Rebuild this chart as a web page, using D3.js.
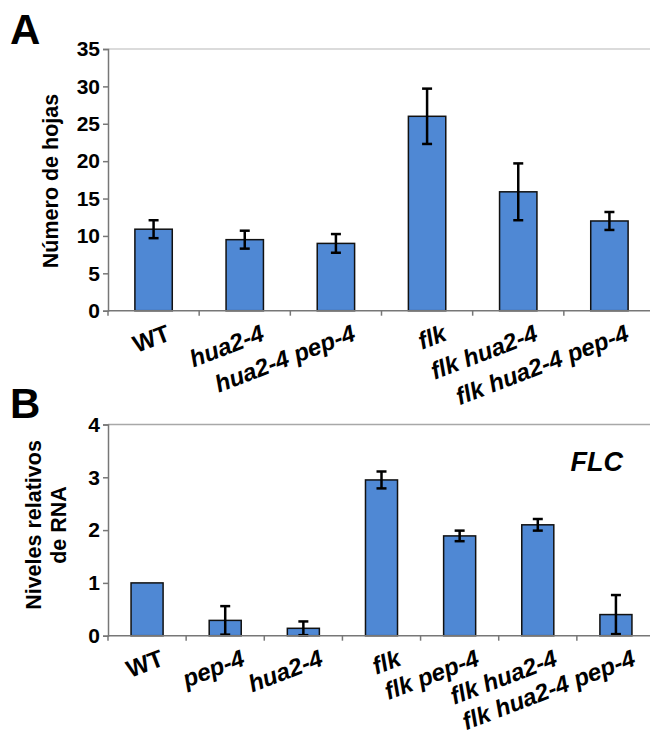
<!DOCTYPE html>
<html>
<head>
<meta charset="utf-8">
<script src="https://cdn.jsdelivr.net/npm/d3@7/dist/d3.min.js"></script>
<style>
  body { margin: 0; background: #fff; }
  svg text { font-family: "Liberation Sans", Arial, sans-serif; font-weight: bold; fill: #000; }
</style>
</head>
<body>
<div id="chart"></div>
<script>
// panel A: number of leaves
var cats_a = ["WT", "hua2-4", "hua2-4 pep-4", "flk", "flk hua2-4", "flk hua2-4 pep-4"];
var vals_a = [10.9, 9.5, 9.0, 26.0, 15.9, 12.0];
var err_a = [1.2, 1.2, 1.25, 3.7, 3.8, 1.2];
var ticks_a = [0, 5, 10, 15, 20, 25, 30, 35];

// panel B: relative FLC RNA levels
var cats_b = ["WT", "pep-4", "hua2-4", "flk", "flk pep-4", "flk hua2-4", "flk hua2-4 pep-4"];
var vals_b = [1.0, 0.29, 0.14, 2.95, 1.89, 2.1, 0.4];
var err_b = [0, 0.27, 0.13, 0.16, 0.1, 0.11, 0.37];
var ticks_b = [0, 1, 2, 3, 4];

var width = 650, height = 735;
var bar_color = "#4f88d4";

var svg = d3.select("#chart")
  .append("svg")
  .attr("width", width)
  .attr("height", height);

function panel(cats, vals, errs, ticks, ymax, y0, y1, grid_color) {
  var x = d3.scaleBand()
    .domain(cats)
    .range([108, 655])
    .paddingInner(0.59)
    .paddingOuter(0.295);

  var y = d3.scaleLinear()
    .domain([0, ymax])
    .range([y0, y1]);

  var g = svg.append("g");

  // top gridline
  g.append("line")
    .attr("x1", 108).attr("x2", 650)
    .attr("y1", y(ymax)).attr("y2", y(ymax))
    .attr("stroke", grid_color).attr("stroke-width", 1.5);

  // y axis
  var ay = g.append("g")
    .attr("transform", "translate(108,0)")
    .call(d3.axisLeft(y).tickValues(ticks).tickSize(5).tickPadding(3).tickFormat(d3.format("d")));
  ay.select(".domain").attr("stroke", "#777").attr("stroke-width", 1.5);
  ay.selectAll(".tick line").attr("stroke", "#777").attr("stroke-width", 1.5);
  ay.selectAll(".tick text").attr("font-size", 21).style("font-family", "Liberation Sans, Arial, sans-serif");

  // bars
  g.selectAll("rect.bar")
    .data(vals)
    .enter()
    .append("rect")
    .attr("class", "bar")
    .attr("x", function(d, i) { return x(cats[i]); })
    .attr("y", function(d) { return y(d); })
    .attr("width", x.bandwidth())
    .attr("height", function(d) { return y(0) - y(d); })
    .attr("fill", bar_color)
    .attr("stroke", "#111")
    .attr("stroke-width", 1.5);

  // error bars (lower cap too)
  vals.forEach(function(d, i) {
    if (errs[i] <= 0) return;
    var cx = x(cats[i]) + x.bandwidth() / 2;
    var hi = y(d + errs[i]), lo = y(Math.max(0, d - errs[i]));
    var s = g.append("g").attr("stroke", "#000").attr("stroke-width", 2.5);
    s.append("line").attr("x1", cx).attr("x2", cx).attr("y1", hi).attr("y2", lo);
    s.append("line").attr("x1", cx - 5).attr("x2", cx + 5).attr("y1", hi).attr("y2", hi);
    s.append("line").attr("x1", cx - 5).attr("x2", cx + 5).attr("y1", lo).attr("y2", lo);
  });

  // x axis baseline and boundary ticks
  g.append("line")
    .attr("x1", 108).attr("x2", 650)
    .attr("y1", y(0)).attr("y2", y(0))
    .attr("stroke", "#777").attr("stroke-width", 1.5);
  g.selectAll("line.xtick")
    .data(d3.range(cats.length + 1))
    .enter()
    .append("line")
    .attr("class", "xtick")
    .attr("x1", function(i) { return 108 + i * x.step(); })
    .attr("x2", function(i) { return 108 + i * x.step(); })
    .attr("y1", y(0)).attr("y2", y(0) + 5)
    .attr("stroke", "#777").attr("stroke-width", 1.5);

  // rotated category labels
  g.selectAll("text.cat")
    .data(cats)
    .enter()
    .append("text")
    .attr("class", "cat")
    .attr("text-anchor", "end")
    .attr("font-size", 24)
    .style("font-style", function(d) { return d === "WT" ? "normal" : "italic"; })
    .attr("transform", function(d) {
      var ax = x(d) + x.bandwidth() / 2 + (d === "WT" ? 18 : 21);
      return "translate(" + ax + "," + (y(0) + 29) + ") rotate(-21)";
    })
    .text(function(d) { return d; });

  return { x: x, y: y };
}

panel(cats_a, vals_a, err_a, ticks_a, 35, 310.7, 49, "#cfcfcf");
panel(cats_b, vals_b, err_b, ticks_b, 4, 635.7, 424.5, "#a8a8a8");

// panel letters
svg.append("text").attr("x", 10).attr("y", 44).attr("font-size", 42).text("A");
svg.append("text").attr("x", 10).attr("y", 418).attr("font-size", 42).text("B");

// axis titles
svg.append("text")
  .attr("transform", "translate(58,181) rotate(-90)")
  .attr("text-anchor", "middle")
  .attr("font-size", 21.5)
  .text("Número de hojas");

var tb = svg.append("text")
  .attr("transform", "translate(0,525) rotate(-90)")
  .attr("text-anchor", "middle")
  .attr("font-size", 21.5);
tb.append("tspan").attr("x", 0).attr("y", 41).text("Niveles relativos");
tb.append("tspan").attr("x", 0).attr("y", 66).text("de RNA");

// gene name
svg.append("text")
  .attr("x", 623).attr("y", 471)
  .attr("text-anchor", "end")
  .attr("font-size", 27)
  .style("font-style", "italic")
  .text("FLC");
</script>
</body>
</html>
